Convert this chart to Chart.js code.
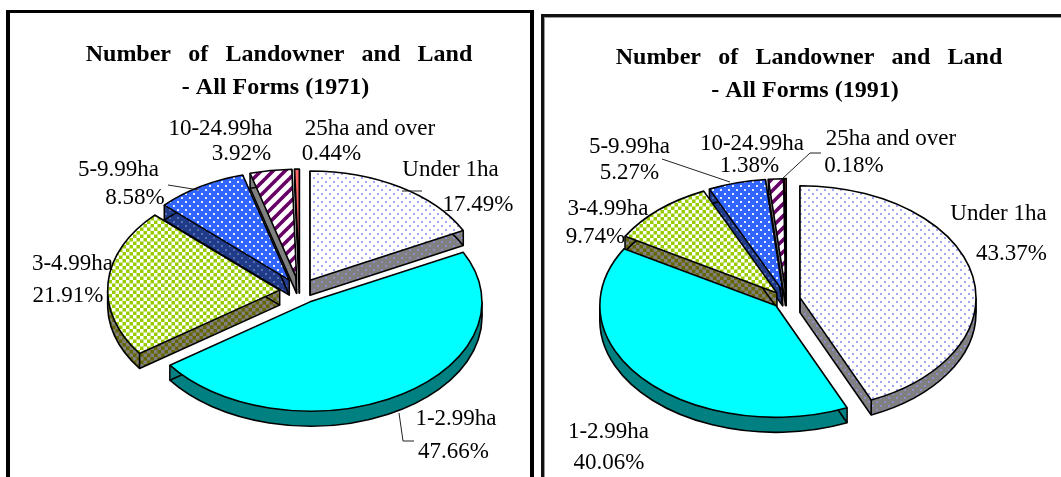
<!DOCTYPE html>
<html>
<head>
<meta charset="utf-8">
<script src="https://cdn.jsdelivr.net/npm/chart.js@4"></script>
<style>
  html, body { margin: 0; padding: 0; background: #fff; overflow: hidden; }
  #stage { position: relative; width: 1061px; height: 477px; overflow: hidden; }
  .frame { position: absolute; box-sizing: border-box; background: #fff; border: solid #000; }
  #frameA { left: 6px; top: 10px; width: 528px; height: 480px; border-width: 3px 4px 0 4px; }
  #frameB { left: 541px; top: 14px; width: 530px; height: 470px; border-width: 3px 0 0 3px; border-color: #111; box-shadow: inset 1px 1px 0 #999; }
  canvas { position: absolute; top: 0; }
  #pieA { left: 0; }
  #pieB { left: 531px; }
</style>
</head>
<body>
<div id="stage">
  <div class="frame" id="frameA"></div>
  <div class="frame" id="frameB"></div>
  <canvas id="pieA" width="530" height="477"></canvas>
  <canvas id="pieB" width="530" height="477"></canvas>
</div>
<script>
// Land-holding size classes and their shares of landowners
const categories = ['Under 1ha', '1-2.99ha', '3-4.99ha', '5-9.99ha', '10-24.99ha', '25ha and over'];
const shares1971 = [17.49, 47.66, 21.91, 8.58, 3.92, 0.44];
const shares1991 = [43.37, 40.06, 9.74, 5.27, 1.38, 0.18];
const titleLine = 'Number of Landowner and Land';
const subtitle1971 = '- All Forms (1971)';
const subtitle1991 = '- All Forms (1991)';

// Label anchors: [name x, name baseline, value x, value baseline], centred
const labels1971 = [
  [450.5, 176, 478, 211], [456, 425, 453.5, 458], [72.5, 270, 68, 302],
  [118.5, 176, 135, 204], [220.5, 135, 241.5, 160], [370, 135, 331.5, 160]
];
const labels1991 = [
  [467.5, 220, 480.5, 260], [77.5, 438, 78, 469], [77, 215, 64.5, 243],
  [98.5, 153, 98.5, 179], [221, 150, 218.5, 172], [360, 145, 323, 172]
];
const leaders1971 = [
  [[402, 191], [422, 191]],
  [[399, 413], [403, 441], [414, 441]],
  [[168, 185], [199, 190]]
];
const leaders1991 = [
  [[131, 159], [199, 182]],
  [[252, 178], [279, 153], [290, 153]]
];

function tile(size, paint) {
  const c = document.createElement('canvas');
  c.width = c.height = size;
  paint(c.getContext('2d'), size);
  return document.createElement('canvas').getContext('2d').createPattern(c, 'repeat');
}
// Staggered soft dots on a flat ground
function dots(ground, ink) {
  return tile(8, (g, n) => {
    g.fillStyle = ground; g.fillRect(0, 0, n, n);
    g.fillStyle = ink;
    g.fillRect(1, 1, 2, 2); g.fillRect(5, 5, 2, 2);
  });
}
function checks(a, b) {
  return tile(7, (g, n) => {
    g.fillStyle = a; g.fillRect(0, 0, n, n);
    g.fillStyle = b;
    g.fillRect(0, 0, 3.5, 3.5); g.fillRect(3.5, 3.5, 3.5, 3.5);
  });
}
function stripes(ground, ink) {
  return tile(12, (g, n) => {
    g.fillStyle = ground; g.fillRect(0, 0, n, n);
    g.strokeStyle = ink; g.lineWidth = 3.6;
    [0, n, 2 * n].forEach(sum => {
      g.beginPath(); g.moveTo(sum + 2, -2); g.lineTo(-2, sum + 2); g.stroke();
    });
  });
}

const topFills = () => [
  dots('#ffffff', '#a4a6f6'), '#00ffff', checks('#99cc00', '#ffffff'),
  dots('#3366ff', '#e4ecff'), stripes('#ffffff', '#660066'), '#ff6666'
];
const wallFills = () => [
  dots('#808080', '#8c8ccc'), '#008080', checks('#666600', '#808080'),
  dots('#1f3b8a', '#5a6fae'), '#808080', '#993333'
];

// Draws the slices as a tilted, exploded disc using the arc geometry the chart computed
const tiltedPie = {
  id: 'tiltedPie',
  beforeDatasetsDraw(chart, args, opts) {
    const ctx = chart.ctx;
    const arcs = chart.getDatasetMeta(0).data;
    const walls = opts.walls;
    const s = opts.squash, depth = opts.depth, gap = opts.explode;

    const slices = arcs.map((arc, i) => {
      const p = arc.getProps(['x', 'y', 'startAngle', 'endAngle', 'outerRadius'], true);
      const mid = (p.startAngle + p.endAngle) / 2;
      return {
        i, a0: p.startAngle, a1: p.endAngle, r: p.outerRadius,
        cx: p.x + Math.cos(mid) * gap,
        cy: p.y + Math.sin(mid) * gap * s,
        fill: arc.options.backgroundColor
      };
    }).sort((a, b) => a.cy - b.cy);

    const trace = (sl, dy) => {
      ctx.beginPath();
      ctx.moveTo(sl.cx, sl.cy + dy);
      ctx.ellipse(sl.cx, sl.cy + dy, sl.r, sl.r * s, 0, sl.a0, sl.a1);
      ctx.closePath();
    };

    ctx.save();
    ctx.strokeStyle = '#000';
    ctx.lineWidth = 1.6;
    ctx.lineJoin = 'round';
    slices.forEach(sl => {
      ctx.fillStyle = walls[sl.i];
      for (let k = depth; k >= 1; k--) { trace(sl, k); ctx.fill(); }
      trace(sl, depth); ctx.stroke();

      // Vertical edges at the apex, the slice ends and the rim's side extremes
      const edge = (x, y) => {
        ctx.beginPath(); ctx.moveTo(x, y); ctx.lineTo(x, y + depth); ctx.stroke();
      };
      edge(sl.cx, sl.cy);
      [sl.a0, sl.a1].forEach(a => edge(sl.cx + Math.cos(a) * sl.r, sl.cy + Math.sin(a) * sl.r * s));
      [0, Math.PI, 2 * Math.PI].forEach(a => {
        if (a > sl.a0 && a < sl.a1) edge(sl.cx + Math.cos(a) * sl.r, sl.cy);
      });

      trace(sl, 0);
      ctx.fillStyle = sl.fill;
      ctx.fill();
      ctx.stroke();
    });
    ctx.restore();
    return false;
  },
  afterDraw(chart, args, opts) {
    const ctx = chart.ctx;
    ctx.save();
    ctx.fillStyle = '#000';
    ctx.textBaseline = 'alphabetic';
    ctx.textAlign = 'center';

    ctx.font = 'bold 24px "Liberation Serif"';
    ctx.wordSpacing = '11.3px';
    ctx.fillText(opts.title[0], opts.titleX[0], opts.titleY[0]);
    ctx.wordSpacing = '0px';
    ctx.fillText(opts.title[1], opts.titleX[1], opts.titleY[1]);

    ctx.strokeStyle = '#222';
    ctx.lineWidth = 1;
    opts.leaders.forEach(path => {
      ctx.beginPath();
      path.forEach(([x, y], k) => (k ? ctx.lineTo(x, y) : ctx.moveTo(x, y)));
      ctx.stroke();
    });

    ctx.font = '23px "Liberation Serif"';
    const values = chart.data.datasets[0].data;
    chart.data.labels.forEach((name, i) => {
      const [nx, ny, vx, vy] = opts.labels[i];
      ctx.fillText(name, nx, ny);
      ctx.fillText(values[i].toFixed(2) + '%', vx, vy);
    });
    ctx.restore();
  }
};

function buildPie(id, values, pad, cfg) {
  return new Chart(document.getElementById(id), {
    type: 'pie',
    data: {
      labels: categories,
      datasets: [{ data: values, backgroundColor: topFills(), borderWidth: 0, offset: 0 }]
    },
    options: {
      responsive: false,
      animation: false,
      layout: { padding: pad },
      plugins: {
        legend: { display: false },
        tooltip: { enabled: false },
        tiltedPie: Object.assign({ walls: wallFills(), depth: 15 }, cfg)
      }
    },
    plugins: [tiltedPie]
  });
}

buildPie('pieA', shares1971,
  { left: 127.6, right: 58.4, top: 119, bottom: 14 },
  { squash: 0.635, explode: 20, title: [titleLine, subtitle1971], titleX: [279, 275.5], titleY: [61, 94],
    labels: labels1971, leaders: leaders1971 });

buildPie('pieB', shares1991,
  { left: 79.3, right: 98.7, top: 123.5, bottom: 1.5 },
  { squash: 0.636, explode: 14, title: [titleLine, subtitle1991], titleX: [278, 274], titleY: [64, 97],
    labels: labels1991, leaders: leaders1991 });
</script>
</body>
</html>
